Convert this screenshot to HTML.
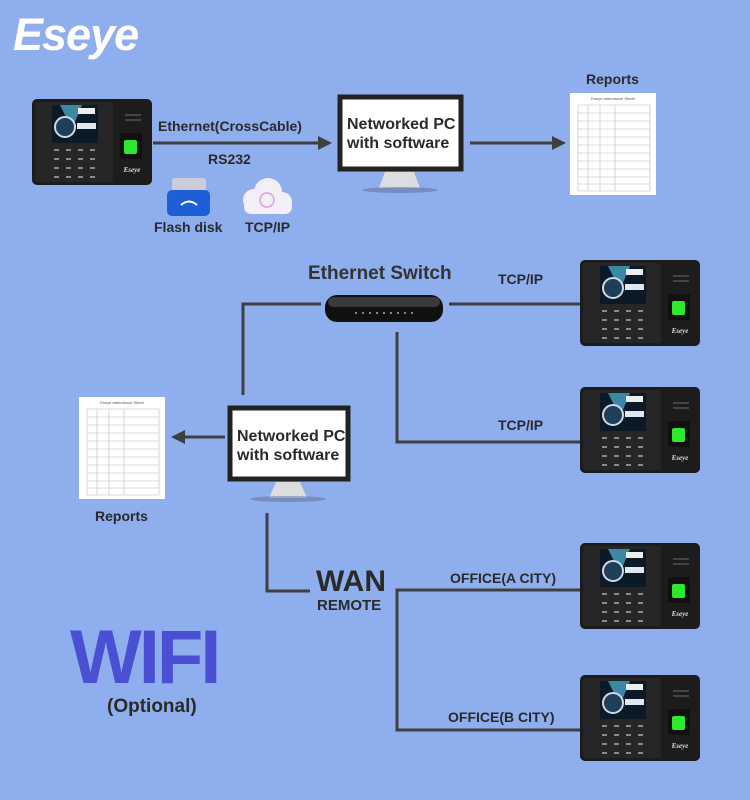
<!DOCTYPE html>
<html><head><meta charset="utf-8"><style>
body{margin:0;width:750px;height:800px;background:#8faeee;position:relative;overflow:hidden;font-family:"Liberation Sans",Arial,sans-serif}
.t{position:absolute;font-weight:bold;color:#2a2a2a;white-space:nowrap}
</style></head><body>
<svg width="750" height="800" style="position:absolute;left:0;top:0">
<defs>
<g id="dev">
<rect x="0" y="0" width="120" height="86" rx="5" fill="#1c1c1c"/>
<rect x="3" y="3" width="78" height="80" rx="3" fill="#262626"/>
<rect x="20" y="6" width="46" height="38" fill="#0b1a26"/>
<polygon points="28,6 50,6 40,30" fill="#4fb8d8" opacity=".7"/>
<circle cx="33" cy="28" r="10" fill="#1e3f5a" stroke="#cfd8e0" stroke-width="2"/>
<rect x="46" y="9" width="17" height="6" fill="#eee"/>
<rect x="45" y="24" width="19" height="6" fill="#dfe8f0"/>
<g fill="#8a8a8a">
<rect x="22" y="50" width="5" height="2"/><rect x="34" y="50" width="5" height="2"/><rect x="46" y="50" width="5" height="2"/><rect x="58" y="50" width="5" height="2"/>
<rect x="22" y="59" width="5" height="2"/><rect x="34" y="59" width="5" height="2"/><rect x="46" y="59" width="5" height="2"/><rect x="58" y="59" width="5" height="2"/>
<rect x="22" y="68" width="5" height="2"/><rect x="34" y="68" width="5" height="2"/><rect x="46" y="68" width="5" height="2"/><rect x="58" y="68" width="5" height="2"/>
<rect x="22" y="77" width="5" height="2"/><rect x="34" y="77" width="5" height="2"/><rect x="46" y="77" width="5" height="2"/><rect x="58" y="77" width="5" height="2"/>
</g>
<rect x="93" y="15" width="16" height="2" fill="#444"/><rect x="93" y="20" width="16" height="2" fill="#444"/>
<rect x="88" y="34" width="22" height="26" fill="#111"/>
<rect x="92" y="41" width="13" height="14" rx="2" fill="#2ee82e"/>
<text x="100" y="73" font-size="7" font-weight="bold" font-style="italic" fill="#ddd" text-anchor="middle" font-family="Liberation Serif">Eseye</text>
</g>
<g id="doc">
<rect x="0" y="0" width="86" height="102" fill="#fff"/>
<g stroke="#bbb" stroke-width=".6">
<line x1="8" y1="12" x2="80" y2="12"/><line x1="8" y1="98" x2="80" y2="98"/>
<line x1="8" y1="12" x2="8" y2="98"/><line x1="18" y1="12" x2="18" y2="98"/><line x1="30" y1="12" x2="30" y2="98"/><line x1="45" y1="12" x2="45" y2="98"/><line x1="80" y1="12" x2="80" y2="98"/>
<line x1="8" y1="20" x2="80" y2="20"/><line x1="8" y1="28" x2="80" y2="28"/><line x1="8" y1="36" x2="80" y2="36"/><line x1="8" y1="44" x2="80" y2="44"/><line x1="8" y1="52" x2="80" y2="52"/><line x1="8" y1="60" x2="80" y2="60"/><line x1="8" y1="68" x2="80" y2="68"/><line x1="8" y1="76" x2="80" y2="76"/><line x1="8" y1="84" x2="80" y2="84"/><line x1="8" y1="91" x2="80" y2="91"/>
</g>
<text x="43" y="7" font-size="4" text-anchor="middle" fill="#555">Eseye attendance Sheet</text>
</g>
</defs>
<g stroke="#3f3f3f" stroke-width="3" fill="none">
<line x1="153" y1="143" x2="318" y2="143"/>
<line x1="470" y1="143" x2="552" y2="143"/>
<line x1="185" y1="437" x2="225" y2="437"/>
<polyline points="243,395 243,304 321,304"/>
<line x1="449" y1="304" x2="580" y2="304"/>
<polyline points="397,332 397,442 580,442"/>
<polyline points="267,513 267,591 310,591"/>
<polyline points="580,590 397,590 397,730 580,730"/>
</g>
<polygon points="318,136 332,143 318,150" fill="#3f3f3f"/>
<polygon points="552,136 566,143 552,150" fill="#3f3f3f"/>
<polygon points="185,430 171,437 185,444" fill="#3f3f3f"/>
<use href="#dev" x="32" y="99"/>
<use href="#dev" x="580" y="260"/>
<use href="#dev" x="580" y="387"/>
<use href="#dev" x="580" y="543"/>
<use href="#dev" x="580" y="675"/>
<use href="#doc" x="570" y="93"/>
<use href="#doc" x="79" y="397"/>
<rect x="340" y="97" width="121" height="72" fill="#fff" stroke="#222" stroke-width="5"/>
<polygon points="385,172 414,172 420,188 379,188" fill="#ddd"/>
<ellipse cx="400" cy="190" rx="38" ry="3" fill="#5a6e9a" opacity=".5"/>
<rect x="230" y="408" width="118" height="71" fill="#fff" stroke="#222" stroke-width="5"/>
<polygon points="276,482 300,482 307,498 269,498" fill="#ddd"/>
<ellipse cx="288" cy="499" rx="38" ry="3" fill="#5a6e9a" opacity=".5"/>
<rect x="325" y="295" width="118" height="27" rx="12" fill="#111"/>
<rect x="328" y="297" width="112" height="10" rx="5" fill="#3a3a3a"/>
<g fill="#888"><rect x="355" y="312" width="2" height="2"/><rect x="362" y="312" width="2" height="2"/><rect x="369" y="312" width="2" height="2"/><rect x="376" y="312" width="2" height="2"/><rect x="383" y="312" width="2" height="2"/><rect x="390" y="312" width="2" height="2"/><rect x="397" y="312" width="2" height="2"/><rect x="404" y="312" width="2" height="2"/><rect x="411" y="312" width="2" height="2"/></g>
<rect x="172" y="178" width="34" height="16" rx="3" fill="#ccd"/>
<rect x="167" y="190" width="43" height="26" rx="5" fill="#1e5fd8"/>
<path d="M181 205 q8 -7 16 0" stroke="#fff" stroke-width="2" fill="none"/>
<g fill="#f4eef6"><circle cx="254" cy="200" r="11"/><circle cx="268" cy="192" r="14"/><circle cx="282" cy="202" r="10"/><rect x="244" y="200" width="48" height="14" rx="7"/></g>
<circle cx="267" cy="200" r="7" fill="none" stroke="#d9a0e0" stroke-width="1.5"/>
</svg>
<div class="t" style="left:13px;top:9px;font-size:45px;color:#fff;font-style:italic;letter-spacing:-1px">Eseye</div>
<div class="t" style="left:158px;top:118px;font-size:14px">Ethernet(CrossCable)</div>
<div class="t" style="left:208px;top:151px;font-size:14px">RS232</div>
<div class="t" style="left:154px;top:219px;font-size:14px">Flash disk</div>
<div class="t" style="left:245px;top:219px;font-size:14px">TCP/IP</div>
<div class="t" style="left:347px;top:115px;font-size:16px;line-height:19px">Networked PC<br>with software</div>
<div class="t" style="left:237px;top:427px;font-size:16px;line-height:19px">Networked PC<br>with software</div>
<div class="t" style="left:586px;top:71px;font-size:14px">Reports</div>
<div class="t" style="left:95px;top:508px;font-size:14px">Reports</div>
<div class="t" style="left:308px;top:263px;font-size:19px;color:#333">Ethernet Switch</div>
<div class="t" style="left:498px;top:271px;font-size:14px">TCP/IP</div>
<div class="t" style="left:498px;top:417px;font-size:14px">TCP/IP</div>
<div class="t" style="left:316px;top:565px;font-size:30px">WAN</div>
<div class="t" style="left:317px;top:597px;font-size:15px">REMOTE</div>
<div class="t" style="left:450px;top:570px;font-size:14px">OFFICE(A CITY)</div>
<div class="t" style="left:448px;top:709px;font-size:14px">OFFICE(B CITY)</div>
<div class="t" style="left:70px;top:614px;font-size:76px;color:#4a4fd3;letter-spacing:-3px">WIFI</div>
<div class="t" style="left:107px;top:696px;font-size:19px">(Optional)</div>
</body></html>
